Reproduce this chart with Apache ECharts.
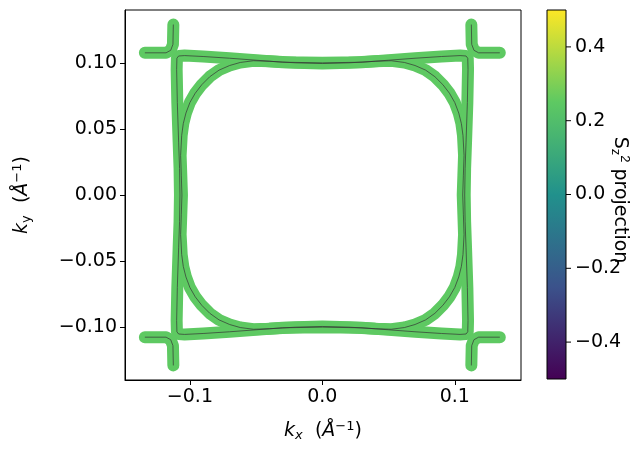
<!DOCTYPE html>
<html>
<head>
<meta charset="utf-8">
<script src="https://cdn.jsdelivr.net/npm/echarts@6/dist/echarts.min.js"></script>
<style>
	body { margin: 0; background: #fff; }
	#main { width: 644px; height: 453px; }
</style>
</head>
<body>
<div id="main"></div>
<script>
	// quarter contours (top-right), mirrored into the other quadrants
	var innerQuarter = [[0,0.0995],[0.02,0.1000],[0.04,0.1012],[0.052,0.1016],[0.062,0.1003],[0.070,0.0980],[0.078,0.0945],[0.085,0.0895],[0.091,0.0835],[0.096,0.0770],[0.100,0.0700],[0.103,0.0620],[0.105,0.0540],[0.1062,0.0450],[0.107,0.0300],[0.1065,0.0150],[0.106,0]];
	var outerQuarter = [[0,0.1000],[0.03,0.1005],[0.05,0.1020],[0.07,0.1035],[0.09,0.1048],[0.104,0.1055],[0.1085,0.1052],[0.1098,0.1035],[0.110,0.0950],[0.1095,0.0700],[0.1085,0.0400],[0.1078,0.0200],[0.1075,0]];
	var prong = [[0.134,0.1076],[0.118,0.1076],[0.1145,0.1095],[0.1128,0.1140],[0.1125,0.129]];
	var xTicks = [-0.1, 0.0, 0.1];
	var yTicks = [-0.10, -0.05, 0.00, 0.05, 0.10];
	var cbTicks = [-0.4, -0.2, 0.0, 0.2, 0.4];
	var pointColor = '#5ec962';

	function closedLoop(q) {
		var pts = [];
		q.forEach(function(p){ pts.push([p[0], p[1]]); });
		q.slice().reverse().forEach(function(p){ pts.push([p[0], -p[1]]); });
		q.forEach(function(p){ pts.push([-p[0], -p[1]]); });
		q.slice().reverse().forEach(function(p){ pts.push([-p[0], p[1]]); });
		pts.push(pts[0]);
		return pts;
	}
	function mirrored(q, sx, sy) {
		return q.map(function(p){ return [sx * p[0], sy * p[1]]; });
	}
	var curves = [closedLoop(innerQuarter), closedLoop(outerQuarter),
		mirrored(prong, 1, 1), mirrored(prong, -1, 1), mirrored(prong, 1, -1), mirrored(prong, -1, -1)];

	var series = [];
	curves.forEach(function(c){
		series.push({ type: 'line', data: c, showSymbol: false,
			lineStyle: { color: pointColor, width: 12, cap: 'round', join: 'round' }, z: 2 });
	});
	curves.forEach(function(c){
		series.push({ type: 'line', data: c, showSymbol: false,
			lineStyle: { color: '#333', width: 0.7 }, z: 3 });
	});

	var font = 'DejaVu Sans';
	var lab = { color: '#000', fontSize: 19, fontFamily: font };
	function fmt(d) { return function(v){ return (v < 0 ? '\u2212' : '') + Math.abs(v).toFixed(d); }; }
	var rich = {
		i: { fontSize: 19, fontStyle: 'italic', fontFamily: font },
		s: { fontSize: 13, fontStyle: 'italic', verticalAlign: 'bottom', padding: [9,0,0,0], fontFamily: font },
		r: { fontSize: 13, verticalAlign: 'bottom', padding: [9,0,0,0], fontFamily: font },
		sup: { fontSize: 13, verticalAlign: 'top', padding: [0,0,9,0], fontFamily: font },
		n: { fontSize: 19, fontFamily: font }
	};

	var myChart = echarts.init(document.getElementById('main'));
	var option = {
		animation: false,
		grid: { left: 125, right: 123, top: 10, bottom: 73 },
		xAxis: {
			type: 'value', min: -0.149, max: 0.150,
			splitLine: { show: false },
			axisLine: { onZero: false, lineStyle: { color: '#000' } },
			axisTick: { length: 5, customValues: xTicks, lineStyle: { color: '#000' } },
			axisLabel: Object.assign({ customValues: xTicks, formatter: fmt(1), margin: 8 }, lab),
			name: '{i|k}{s|x}{n|  (}{i|Å}{sup|−1}{n|)}', nameLocation: 'middle', nameGap: 40,
			nameTextStyle: { color: '#000', fontSize: 19, fontFamily: font, rich: rich }
		},
		yAxis: {
			type: 'value', min: -0.140, max: 0.140,
			splitLine: { show: false },
			axisLine: { show: true, onZero: false, lineStyle: { color: '#000' } },
			axisTick: { show: true, length: 5, customValues: yTicks, lineStyle: { color: '#000' } },
			axisLabel: Object.assign({ customValues: yTicks, formatter: fmt(2), margin: 8 }, lab),
			name: '{i|k}{r|y}{n|  (}{i|Å}{sup|−1}{n|)}', nameLocation: 'middle', nameGap: 92,
			nameTextStyle: { color: '#000', fontSize: 19, fontFamily: font, rich: rich }
		},
		series: series,
		graphic: [
			{ type: 'rect', shape: { x: 125, y: 10, width: 396, height: 370 }, style: { fill: 'none', stroke: '#000', lineWidth: 1 }, z: 10 },
			{ type: 'rect', shape: { x: 547, y: 10, width: 19, height: 369 },
				style: { stroke: '#000', lineWidth: 1, fill: new echarts.graphic.LinearGradient(0, 0, 0, 1, [
					{ offset: 0, color: '#fde725' }, { offset: 0.25, color: '#5ec962' }, { offset: 0.5, color: '#21918c' },
					{ offset: 0.75, color: '#3b528b' }, { offset: 1, color: '#440154' }]) } }
		].concat(cbTicks.map(function(v){
			var y = 194.5 - v * 369;
			return { type: 'group', children: [
				{ type: 'line', shape: { x1: 566, y1: y, x2: 571, y2: y }, style: { stroke: '#000', lineWidth: 1 } },
				{ type: 'text', x: 575, y: y, style: { text: fmt(1)(v), fill: '#000', font: '19px ' + font, textVerticalAlign: 'middle' } }
			]};
		})).concat([
			{ type: 'text', x: 620, y: 200, rotation: -Math.PI / 2,
				style: { text: 'S{s|z}{p|2} projection', fill: '#000', font: '19px ' + font, textAlign: 'center', textVerticalAlign: 'middle',
					rich: { s: { fontSize: 13, verticalAlign: 'bottom', padding: [9,0,0,0] }, p: { fontSize: 13, verticalAlign: 'top', padding: [0,0,9,0] } } } }
		])
	};
	myChart.setOption(option);
</script>
</body>
</html>
